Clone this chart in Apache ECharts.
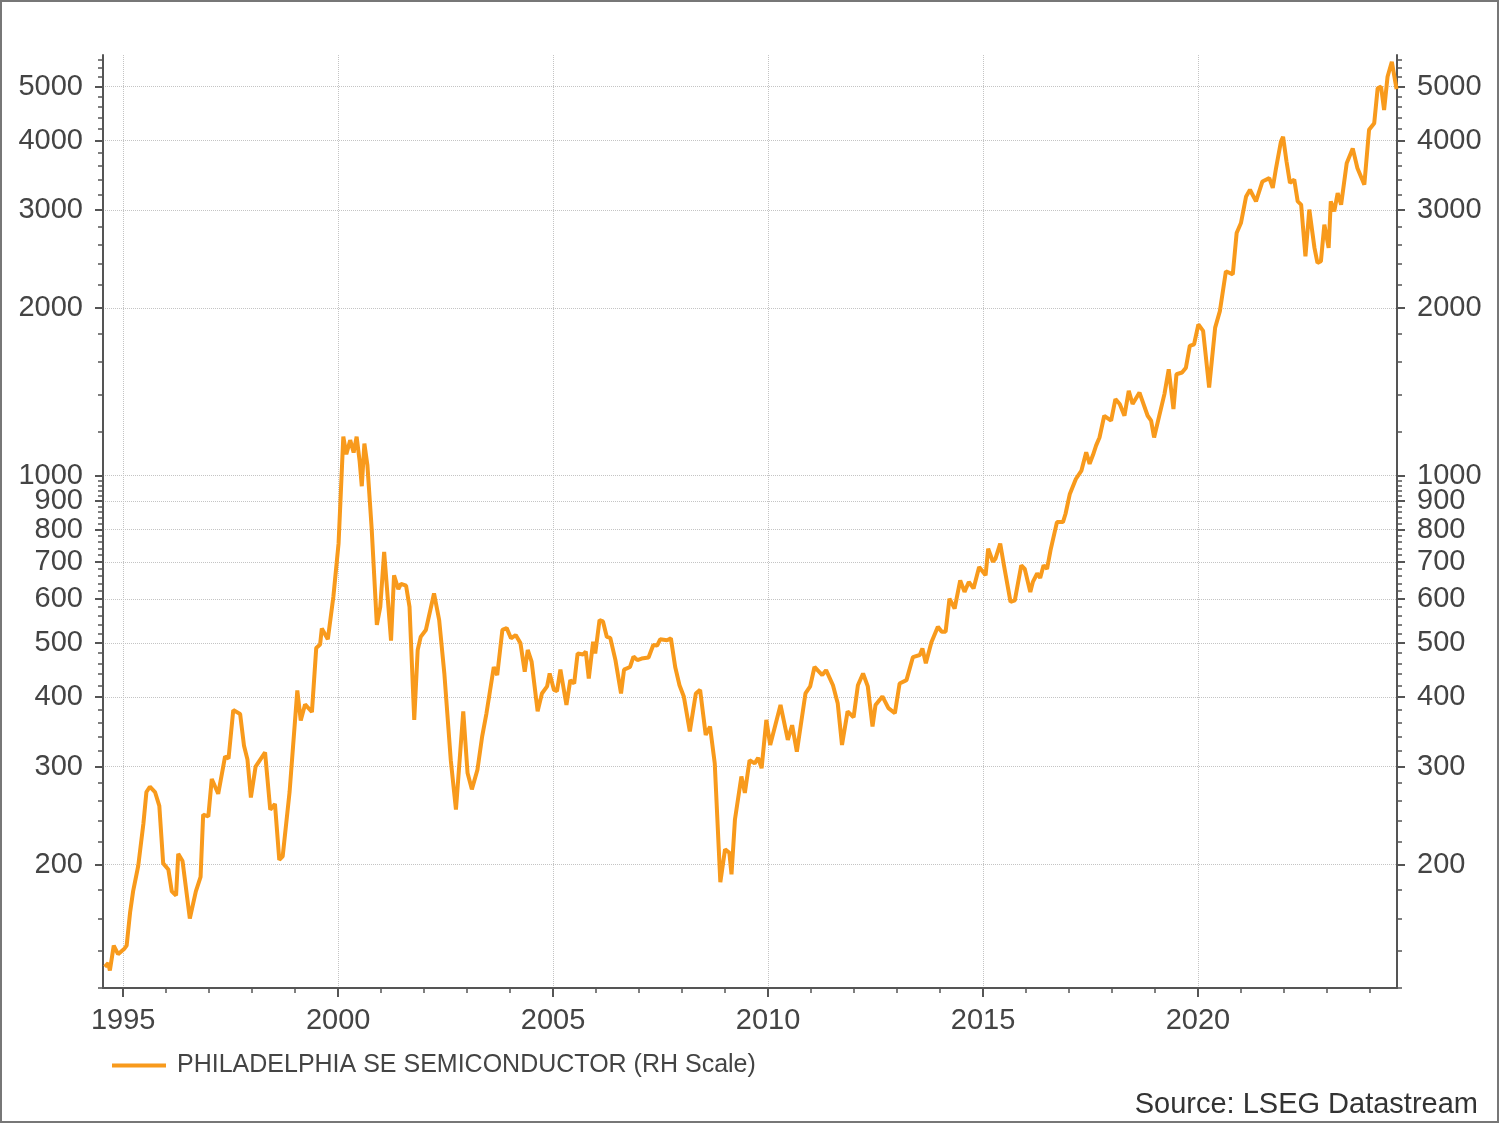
<!DOCTYPE html>
<html>
<head>
<meta charset="utf-8">
<script src="https://cdn.jsdelivr.net/npm/echarts@6/dist/echarts.min.js"></script>
<style>
  html, body { margin: 0; padding: 0; background: #fff; }
  #chart { width: 1500px; height: 1125px; }
</style>
</head>
<body>
<div id="chart"></div>
<script>
// 时间 (十进制年份) 与指数值
const years = [
  1994.57, 1994.65, 1994.69, 1994.78, 1994.88, 1995.02, 1995.08, 1995.16, 1995.23, 1995.35,
  1995.47, 1995.54, 1995.62, 1995.74, 1995.84, 1995.93, 1996.05, 1996.13, 1996.23, 1996.28,
  1996.38, 1996.55, 1996.69, 1996.80, 1996.86, 1996.98, 1997.06, 1997.21, 1997.37, 1997.45,
  1997.56, 1997.72, 1997.81, 1997.89, 1997.97, 1998.08, 1998.30, 1998.42, 1998.53, 1998.63,
  1998.71, 1998.87, 1999.05, 1999.13, 1999.23, 1999.39, 1999.49, 1999.58, 1999.62, 1999.76,
  1999.89, 2000.01, 2000.12, 2000.19, 2000.28, 2000.36, 2000.43, 2000.50, 2000.55, 2000.61,
  2000.68, 2000.78, 2000.90, 2000.98, 2001.07, 2001.23, 2001.30, 2001.40, 2001.46, 2001.58,
  2001.66, 2001.77, 2001.85, 2001.92, 2002.04, 2002.23, 2002.35, 2002.47, 2002.62, 2002.74,
  2002.91, 2003.01, 2003.11, 2003.24, 2003.35, 2003.45, 2003.62, 2003.70, 2003.82, 2003.92,
  2004.02, 2004.13, 2004.24, 2004.34, 2004.41, 2004.50, 2004.64, 2004.74, 2004.86, 2004.92,
  2005.02, 2005.09, 2005.17, 2005.31, 2005.40, 2005.49, 2005.57, 2005.70, 2005.76, 2005.83,
  2005.93, 2005.98, 2006.08, 2006.16, 2006.25, 2006.33, 2006.45, 2006.58, 2006.65, 2006.79,
  2006.87, 2006.96, 2007.06, 2007.22, 2007.33, 2007.42, 2007.49, 2007.65, 2007.74, 2007.84,
  2007.94, 2008.04, 2008.18, 2008.32, 2008.42, 2008.55, 2008.65, 2008.76, 2008.89, 2009.00,
  2009.10, 2009.15, 2009.23, 2009.38, 2009.46, 2009.57, 2009.69, 2009.77, 2009.85, 2009.96,
  2010.05, 2010.29, 2010.46, 2010.56, 2010.67, 2010.87, 2010.98, 2011.08, 2011.26, 2011.35,
  2011.51, 2011.62, 2011.72, 2011.85, 2011.99, 2012.09, 2012.21, 2012.32, 2012.43, 2012.50,
  2012.66, 2012.80, 2012.95, 2013.06, 2013.22, 2013.37, 2013.53, 2013.59, 2013.67, 2013.80,
  2013.95, 2014.04, 2014.13, 2014.22, 2014.34, 2014.47, 2014.57, 2014.67, 2014.78, 2014.91,
  2015.06, 2015.12, 2015.23, 2015.29, 2015.40, 2015.48, 2015.64, 2015.74, 2015.89, 2015.97,
  2016.10, 2016.16, 2016.26, 2016.33, 2016.41, 2016.49, 2016.57, 2016.72, 2016.86, 2016.92,
  2017.02, 2017.16, 2017.29, 2017.40, 2017.48, 2017.56, 2017.63, 2017.71, 2017.82, 2017.98,
  2018.08, 2018.18, 2018.29, 2018.39, 2018.48, 2018.64, 2018.83, 2018.91, 2018.98, 2019.09,
  2019.22, 2019.32, 2019.43, 2019.50, 2019.63, 2019.72, 2019.81, 2019.91, 2020.01, 2020.12,
  2020.26, 2020.40, 2020.51, 2020.65, 2020.81, 2020.90, 2021.00, 2021.12, 2021.21, 2021.35,
  2021.50, 2021.66, 2021.74, 2021.81, 2021.93, 2021.98, 2022.06, 2022.14, 2022.24, 2022.32,
  2022.40, 2022.50, 2022.59, 2022.71, 2022.78, 2022.86, 2022.94, 2023.04, 2023.09, 2023.17,
  2023.25, 2023.33, 2023.46, 2023.60, 2023.71, 2023.87, 2023.98, 2024.10, 2024.18, 2024.26,
  2024.33, 2024.41, 2024.51, 2024.62
]
const values = [
  131, 133, 129, 143, 138, 141, 143, 164, 179, 199,
  237, 270, 276, 270, 255, 201, 196, 179, 176, 209,
  203, 160, 179, 190, 246, 244, 285, 268, 313, 310,
  379, 373, 327, 309, 264, 300, 318, 251, 257, 204,
  207, 270, 411, 363, 388, 376, 490, 497, 531, 508,
  607, 756, 1175, 1092, 1158, 1100, 1175, 1061, 957, 1142,
  1045, 802, 539, 581, 729, 505, 662, 625, 639, 634,
  581, 364, 486, 513, 528, 614, 550, 441, 308, 251,
  377, 292, 273, 296, 340, 374, 453, 438, 528, 532,
  510, 517, 500, 444, 486, 463, 377, 406, 418, 441,
  412, 410, 448, 387, 429, 423, 479, 477, 483, 432,
  503, 479, 550, 547, 513, 511, 466, 406, 448, 453,
  473, 466, 469, 471, 496, 495, 508, 506, 510, 453,
  420, 401, 347, 406, 412, 342, 354, 304, 186, 213,
  210, 192, 241, 288, 269, 308, 304, 311, 298, 364,
  328, 387, 335, 356, 319, 406, 418, 453, 438, 447,
  420, 390, 328, 377, 368, 420, 441, 418, 354, 387,
  401, 382, 374, 423, 429, 472, 476, 489, 460, 502,
  535, 524, 524, 601, 577, 648, 618, 644, 627, 685,
  662, 739, 700, 709, 755, 695, 593, 597, 690, 680,
  618, 644, 667, 655, 690, 680, 734, 825, 825, 854,
  927, 986, 1021, 1101, 1050, 1090, 1132, 1171, 1281, 1255,
  1372, 1345, 1281, 1420, 1345, 1410, 1281, 1255, 1171, 1272,
  1401, 1553, 1317, 1521, 1532, 1563, 1710, 1722, 1870, 1820,
  1440, 1845, 1975, 2329, 2299, 2729, 2844, 3175, 3264, 3110,
  3378, 3425, 3288, 3546, 3983, 4064, 3668, 3357, 3403, 3110,
  3069, 2479, 3006, 2566, 2411, 2428, 2825, 2566, 3110, 2985,
  3218, 3069, 3643, 3873, 3568, 3334, 4182, 4298, 4966, 5000,
  4540, 5210, 5542, 4950
]

// 刻度
const majorYears = [1995, 2000, 2005, 2010, 2015, 2020]
const minorYears = [
  1995, 1996, 1997, 1998, 1999, 2000, 2001, 2002, 2003, 2004,
  2005, 2006, 2007, 2008, 2009, 2010, 2011, 2012, 2013, 2014,
  2015, 2016, 2017, 2018, 2019, 2020, 2021, 2022, 2023, 2024
]
const yLabels = [200, 300, 400, 500, 600, 700, 800, 900, 1000, 2000, 3000, 4000, 5000]
const yMinorTicks = [
  120, 140, 160, 180, 220, 240, 260, 280, 320, 340, 360, 380,
  420, 440, 460, 480, 520, 540, 560, 580, 620, 640, 660, 680,
  720, 740, 760, 780, 820, 840, 860, 880, 920, 940, 960, 980,
  1200, 1400, 1600, 1800, 2200, 2400, 2600, 2800, 3200, 3400, 3600, 3800,
  4200, 4400, 4600, 4800, 5200, 5400, 5600
]

const seriesName = 'PHILADELPHIA SE SEMICONDUCTOR (RH Scale)'
const lineColor = '#f89a1c'
const axisColor = '#555'
const font = "'Liberation Sans', Arial, sans-serif"

const xMin = 1994.53
const xMax = 2024.63
const yMin = 120
const yMax = 5700

const chart = echarts.init(document.getElementById('chart'))

const gridLine = { show: true, lineStyle: { color: '#c4c4c4', type: 'dotted', width: 1 } }
const tickLabel = { color: '#444', fontSize: 29, fontFamily: font }

const yAxisBase = (position) => ({
  type: 'log',
  logBase: 10,
  min: yMin,
  max: yMax,
  position: position
})

chart.setOption({
  animation: false,
  backgroundColor: '#fff',
  grid: {
    left: 103,
    right: 103,
    top: 55,
    bottom: 137,
    containLabel: false,
    outerBoundsMode: 'none'
  },
  legend: {
    left: 107,
    top: 1048,
    icon: 'rect',
    itemWidth: 54,
    itemHeight: 4,
    data: [seriesName],
    textStyle: { color: '#444', fontSize: 25, fontFamily: font, padding: [0, 0, 0, 6] }
  },
  graphic: [
    {
      type: 'text',
      right: 22,
      top: 1090,
      style: { text: 'Source: LSEG Datastream', fill: '#333', font: "29px 'Liberation Sans', Arial, sans-serif" }
    },
    {
      type: 'rect',
      shape: { x: 1, y: 1, width: 1497, height: 1121 },
      style: { fill: 'none', stroke: '#777', lineWidth: 2 },
      silent: true
    }
  ],
  xAxis: [
    {
      type: 'value',
      min: xMin,
      max: xMax,
      position: 'bottom',
      axisLine: { show: true, onZero: false, lineStyle: { color: axisColor, width: 2 } },
      axisTick: { show: true, length: 9, customValues: majorYears, lineStyle: { color: axisColor, width: 2 } },
      axisLabel: { show: true, customValues: majorYears, margin: 18, formatter: v => String(Math.round(v)), ...tickLabel },
      splitLine: gridLine
    },
    {
      type: 'value',
      min: xMin,
      max: xMax,
      position: 'bottom',
      axisLine: { show: false, onZero: false },
      axisTick: { show: true, length: 5, customValues: minorYears, lineStyle: { color: axisColor, width: 1.5 } },
      axisLabel: { show: false },
      splitLine: { show: false }
    }
  ],
  yAxis: [
    {
      ...yAxisBase('left'),
      axisLine: { show: true, lineStyle: { color: axisColor, width: 2 } },
      axisTick: { show: true, length: 8, customValues: yLabels, lineStyle: { color: axisColor, width: 2 } },
      axisLabel: { show: true, customValues: yLabels, margin: 20, formatter: v => String(Math.round(v)), ...tickLabel },
      splitLine: gridLine
    },
    {
      ...yAxisBase('left'),
      axisLine: { show: false },
      axisTick: { show: true, length: 5, customValues: yMinorTicks, lineStyle: { color: axisColor, width: 1.5 } },
      axisLabel: { show: false },
      splitLine: { show: false }
    },
    {
      ...yAxisBase('right'),
      axisLine: { show: true, lineStyle: { color: axisColor, width: 2 } },
      axisTick: { show: true, length: 8, customValues: yLabels, lineStyle: { color: axisColor, width: 2 } },
      axisLabel: { show: true, customValues: yLabels, margin: 20, formatter: v => String(Math.round(v)), ...tickLabel },
      splitLine: { show: false }
    },
    {
      ...yAxisBase('right'),
      axisLine: { show: false },
      axisTick: { show: true, length: 5, customValues: yMinorTicks, lineStyle: { color: axisColor, width: 1.5 } },
      axisLabel: { show: false },
      splitLine: { show: false }
    }
  ],
  series: [
    {
      name: seriesName,
      type: 'line',
      xAxisIndex: 0,
      yAxisIndex: 0,
      data: years.map((y, i) => [y, values[i]]),
      showSymbol: false,
      symbol: 'none',
      lineStyle: { color: lineColor, width: 4 },
      itemStyle: { color: lineColor }
    }
  ]
})
</script>
</body>
</html>
